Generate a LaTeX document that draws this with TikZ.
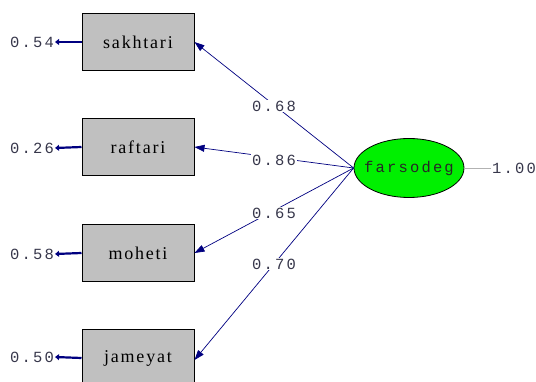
\documentclass[tikz,border=0pt]{standalone}
\usepackage{fontspec}
\setmainfont{Liberation Serif}
\newfontfamily\monof[LetterSpace=14]{Liberation Mono}
\newfontfamily\boxf[LetterSpace=10]{Liberation Serif}
\usetikzlibrary{arrows.meta,shapes.geometric}
\definecolor{navy}{RGB}{0,0,128}
\definecolor{boxgray}{RGB}{192,192,192}
\definecolor{numc}{RGB}{55,55,75}
\definecolor{lgreen}{RGB}{0,240,0}
\begin{document}
\begin{tikzpicture}[x=1pt,y=-1pt,
  obsbox/.style={draw=black, line width=1pt, fill=boxgray, minimum width=112pt, minimum height=57pt, inner sep=0pt, font=\boxf\fontsize{18}{18}\selectfont},
  numlab/.style={text=numc, inner sep=1pt, font=\monof\fontsize{15.5}{15.5}\selectfont},
  pathlab/.style={numlab, fill=white},
  load/.style={draw=navy, line width=0.7pt, -{Triangle[length=10pt,width=7pt]}},
  err/.style={draw=navy, line width=2.2pt, -{Triangle[length=4pt,width=6pt]}}]
\useasboundingbox (0,0) rectangle (536,382);
\node[obsbox] (s) at (138,42) {sakhtari};
\node[obsbox] (r) at (138,147) {raftari};
\node[obsbox] (m) at (138,253) {moheti};
\node[obsbox] (j) at (138,358) {jameyat};
\node[draw=black, line width=0.8pt, fill=lgreen, ellipse, minimum width=110pt, minimum height=59pt, inner sep=0pt,
  label={[font=\monof\fontsize{15.5}{15.5}\selectfont, text=black!85]center:farsodeg}] (f) at (409,168) {};
\node[numlab] (es) at (32,42) {0.54};
\node[numlab] (er) at (32,148) {0.26};
\node[numlab] (em) at (32,254) {0.58};
\node[numlab] (ej) at (32,357) {0.50};
\node[numlab] (fv) at (514,168) {1.00};
\draw[err] (s.west) -- (es.east);
\draw[err] (r.west) -- (er.east);
\draw[err] (m.west) -- (em.east);
\draw[err] (j.west) -- (ej.east);
\draw[gray!60, line width=0.6pt] (f.east) -- (fv.west);
\draw[load] (f.west) -- (s.east);
\draw[load] (f.west) -- (r.east);
\draw[load] (f.west) -- (m.east);
\draw[load] (f.west) -- ([yshift=-2pt]j.east);
\node[pathlab] (l1) at (274,106) {0.68};
\node[pathlab] (l2) at (274,160) {0.86};
\node[pathlab] (l3) at (274,213) {0.65};
\node[pathlab] (l4) at (274,264) {0.70};
\end{tikzpicture}
\end{document}
